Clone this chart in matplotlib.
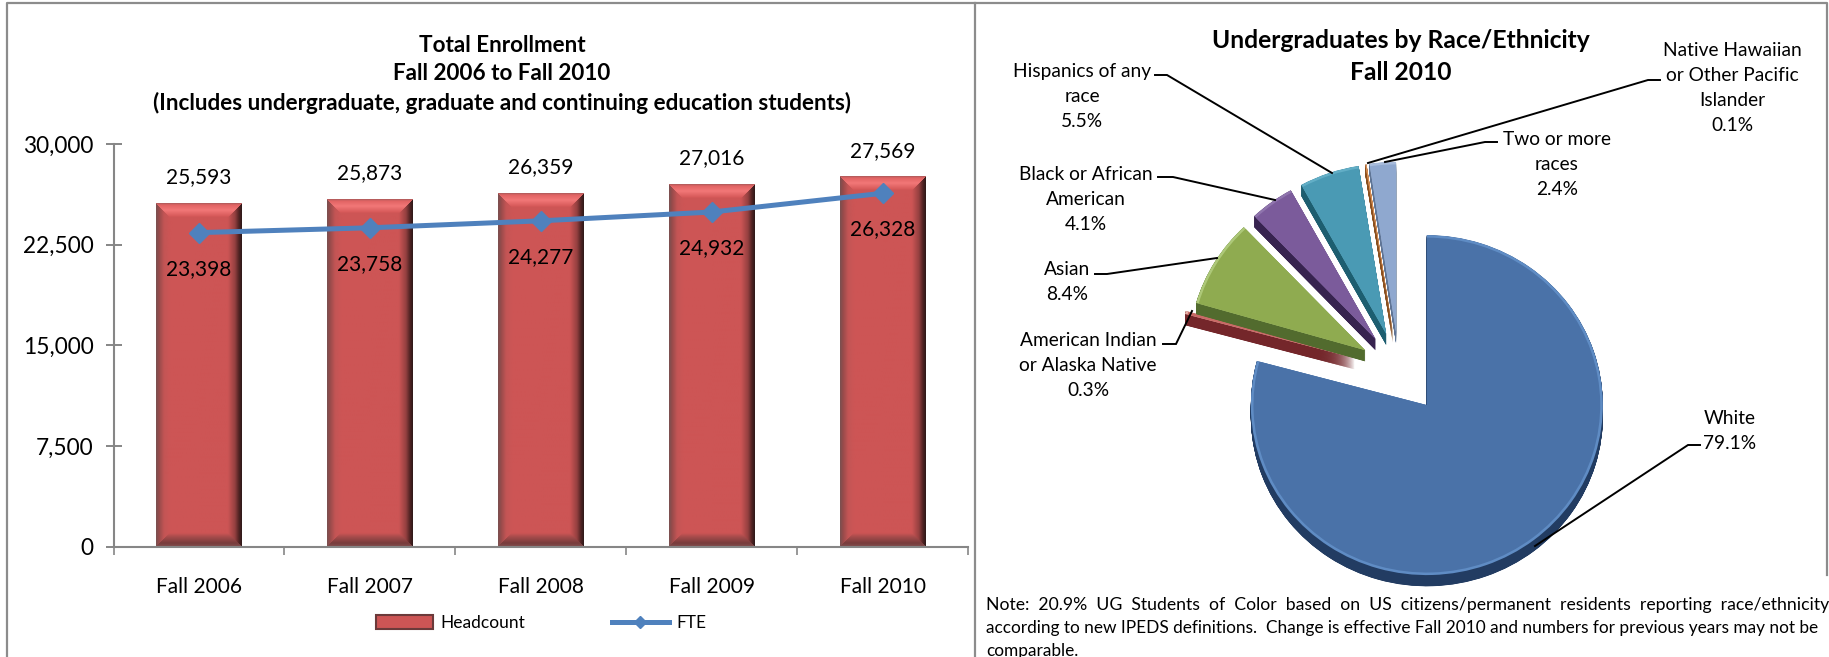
import numpy as np
from matplotlib import pyplot as plt

plt.rcParams['font.family'] = ['Lato', 'DejaVu Sans']

W, H = 1829, 657

years = ["Fall 2006", "Fall 2007", "Fall 2008", "Fall 2009", "Fall 2010"]
headcount = [25593, 25873, 26359, 27016, 27569]
fte = [23398, 23758, 24277, 24932, 26328]
y_ticks = [0, 7500, 15000, 22500, 30000]

# clockwise from 12 o'clock
race_names = ["White", "American Indian\nor Alaska Native", "Asian", "Black or African\nAmerican",
              "Hispanics of any\nrace", "Native Hawaiian\nor Other Pacific\nIslander", "Two or more\nraces"]
race_share = [79.1, 0.3, 8.4, 4.1, 5.5, 0.1, 2.4]

# surface, rim, side
race_colors = ["#4a72a8", "#c96a66", "#8fab50", "#7b5b9b", "#4a9ab4", "#d98a4a", "#8fa8cf"]
race_rims = ["#5f8cc4", "#e8b0a8", "#adc878", "#8f74ad", "#62aec6", "#e8a878", "#a8bcdc"]
race_sides = ["#223c62", "#74262a", "#526b2e", "#37234f", "#1d5e70", "#8a5020", "#5f7596"]
explode = [0.26, 0.26, 0.225, 0.225, 0.225, 0.225, 0.225]
slice_order = [0, 0, 1, 0, 0, 0, 0]

# centre x, first line y, then the leader: (x, y) points in pixels
label_pos = [(1730, 416), (1088, 338), (1067, 267), (1086, 172), (1082, 69), (1732, 48), (1557, 137)]
leaders = [
    [(1700, 445), (1688, 445), (1535, 546)],
    [(1163, 344), (1176, 344), (1192, 311)],
    [(1095, 274), (1107, 274), (1217, 258)],
    [(1158, 177), (1173, 177), (1275, 200)],
    [(1155, 75), (1167, 75), (1332, 173)],
    [(1660, 80), (1648, 80), (1368, 163)],
    [(1497, 142), (1485, 142), (1385, 162)],
]

note_lines = [
    "Note:  20.9%  UG  Students  of  Color  based  on  US  citizens/permanent  residents  reporting  race/ethnicity",
    "according to new IPEDS definitions.  Change is effective Fall 2010 and numbers for previous years may not be",
    "comparable.",
]

FACE = (205, 85, 85)
GRAY = "#868686"


def px_axes(x0, y0, x1, y1):
    return fig.add_axes([x0 / W, 1 - y1 / H, (x1 - x0) / W, (y1 - y0) / H])


def ramp(dist, stops):
    pos = [s[0] for s in stops]
    return np.dstack([np.interp(dist, pos, [s[1][c] for s in stops]) for c in range(3)])


def bevel_image(w, h):
    x, y = np.meshgrid(np.arange(w) + 0.5, np.arange(h) + 0.5)
    dl, dr, dt, db = x, w - x, y, h - y
    left = ramp(dl, [(0, (120, 80, 80)), (3, (150, 75, 75)), (8, (195, 85, 85)), (14, FACE)])
    right = ramp(dr, [(0, (45, 25, 25)), (3, (80, 35, 35)), (7, (150, 65, 65)), (14, FACE)])
    top = ramp(dt, [(0, (170, 90, 90)), (2, (225, 100, 100)), (7, (242, 120, 120)), (13, (215, 90, 90)), (14, FACE)])
    bottom = ramp(db, [(0, (130, 80, 80)), (4, (120, 60, 60)), (10, (165, 75, 75)), (14, FACE)])
    img = np.where((np.minimum(dl, dr) < np.minimum(dt, db))[..., None], np.where((dl < dr)[..., None], left, right),
                   np.where((dt < db)[..., None], top, bottom))
    return img / 255


def pie_layer(colors, radius, center_y, z):
    wedges, _ = pie_ax.pie(race_share, explode=explode, colors=colors, startangle=90, counterclock=False,
                           radius=radius, center=(0, center_y), wedgeprops={"linewidth": 0})
    for wedge, order in zip(wedges, slice_order):
        wedge.set_zorder(order + z)


fig = plt.figure(figsize=(W / 100, H / 100), dpi=100, facecolor="white")

# ---- bars
ax = px_axes(113.5, 144, 968, 546.7)
positions = np.arange(len(years))
bars = ax.bar(positions, headcount, width=0.5, color="#cd5555", label="Headcount", zorder=2)
for bar in bars:
    px_h = int(bar.get_height() * 402.7 / 30000)
    ax.imshow(bevel_image(85, px_h), aspect="auto", zorder=2.5, interpolation="bilinear",
              extent=(bar.get_x(), bar.get_x() + bar.get_width(), 0, bar.get_height()))
line, = ax.plot(positions, fte, color="#4f81bd", lw=3.6, marker="D", ms=9.7, label="FTE", zorder=3)
ax.set_xlim(-0.5, 4.5)
ax.set_ylim(0, 30000)

for i, v in enumerate(headcount):
    ax.annotate(f"{v:,}", (i, v), xytext=(0, 18.7), textcoords="offset points", ha="center", va="center", fontsize=15)
for i, v in enumerate(fte):
    ax.annotate(f"{v:,}", (i, v), xytext=(0, -26), textcoords="offset points", ha="center", va="center", fontsize=15,
                zorder=4)

ax.set_yticks(y_ticks, [f"{v:,}" for v in y_ticks], fontsize=16.3)
ax.set_xticks(np.arange(-0.5, 5), [])
ax.set_xticks(positions, years, minor=True, fontsize=15)
ax.tick_params(axis="y", direction="inout", length=11, width=1.4, color=GRAY, pad=9)
ax.tick_params(axis="x", which="major", length=6, width=1.2, color=GRAY)
ax.tick_params(axis="x", which="minor", length=0, pad=21.5)
for side in ["top", "right"]:
    ax.spines[side].set_visible(False)
for side in ["left", "bottom"]:
    ax.spines[side].set_color(GRAY)
    ax.spines[side].set_linewidth(1.5)

legend = ax.legend(handles=[bars, line], loc="center", bbox_to_anchor=(541 / W, 1 - 623 / H),
                   bbox_transform=fig.transFigure, ncol=2, frameon=False, fontsize=12.5, handlelength=3.3,
                   handletextpad=0.4, columnspacing=5.0, handleheight=0.9, markerscale=0.6)
legend.legend_handles[0].set_edgecolor("#6b3a3a")
legend.legend_handles[0].set_linewidth(1.5)

# ---- pie, rx 176 px and ry 170 px around (1399, 370)
pie_ax = px_axes(1399 - 1.6 * 176, 370 - 1.6 * 170, 1399 + 1.6 * 176, 370 + 1.6 * 170)
# thin slices leave gaps if the side layers are any further apart
for k in range(48, 0, -1):
    pie_layer(race_sides, 1, -k * 0.001375, 0.1)
pie_layer(race_rims, 1, 0, 0.5)
pie_layer(race_colors, 0.985, 0, 0.6)
pie_ax.set_aspect("auto")
pie_ax.set_xlim(-1.6, 1.6)
pie_ax.set_ylim(-1.6, 1.6)

# ---- frame, titles, labels in pixel coordinates
over = fig.add_axes([0, 0, 1, 1])
over.set_xlim(0, W)
over.set_ylim(H, 0)
over.axis("off")
over.patch.set_alpha(0)

over.plot([7, 7, 1827, 1827], [H, 3, 3, 575], color="#8c8c8c", lw=1.6)
over.plot([975, 975], [3, H], color="#8c8c8c", lw=1.6)

for text, y in zip(["Total Enrollment", "Fall 2006 to Fall 2010",
                    "(Includes undergraduate, graduate and continuing education students)"], [45, 73, 103]):
    over.text(502, y, text, ha="center", va="center", fontsize=16.2, fontweight="bold")
for text, y in zip(["Undergraduates by Race/Ethnicity", "Fall 2010"], [41, 73]):
    over.text(1401, y, text, ha="center", va="center", fontsize=17.7, fontweight="bold")

for name, share, (x, y), leader in zip(race_names, race_share, label_pos, leaders):
    over.text(x, y - 6, f"{name}\n{share}%", ha="center", va="top", fontsize=13.8, linespacing=1.58)
    over.plot(*zip(*leader), color="black", lw=1.4, solid_joinstyle="miter")

# note lines are justified in the reference, fit them to the column
renderer = fig.canvas.get_renderer()
note_size = 11
for i, (text, y) in enumerate(zip(note_lines, [605, 628, 651])):
    t = over.text(986, y, text, ha="left", va="center", fontsize=note_size)
    if i < 2:
        note_size = note_size * 839 / t.get_window_extent(renderer).width
        t.set_fontsize(note_size)

fig.savefig("out.png", dpi=100)
